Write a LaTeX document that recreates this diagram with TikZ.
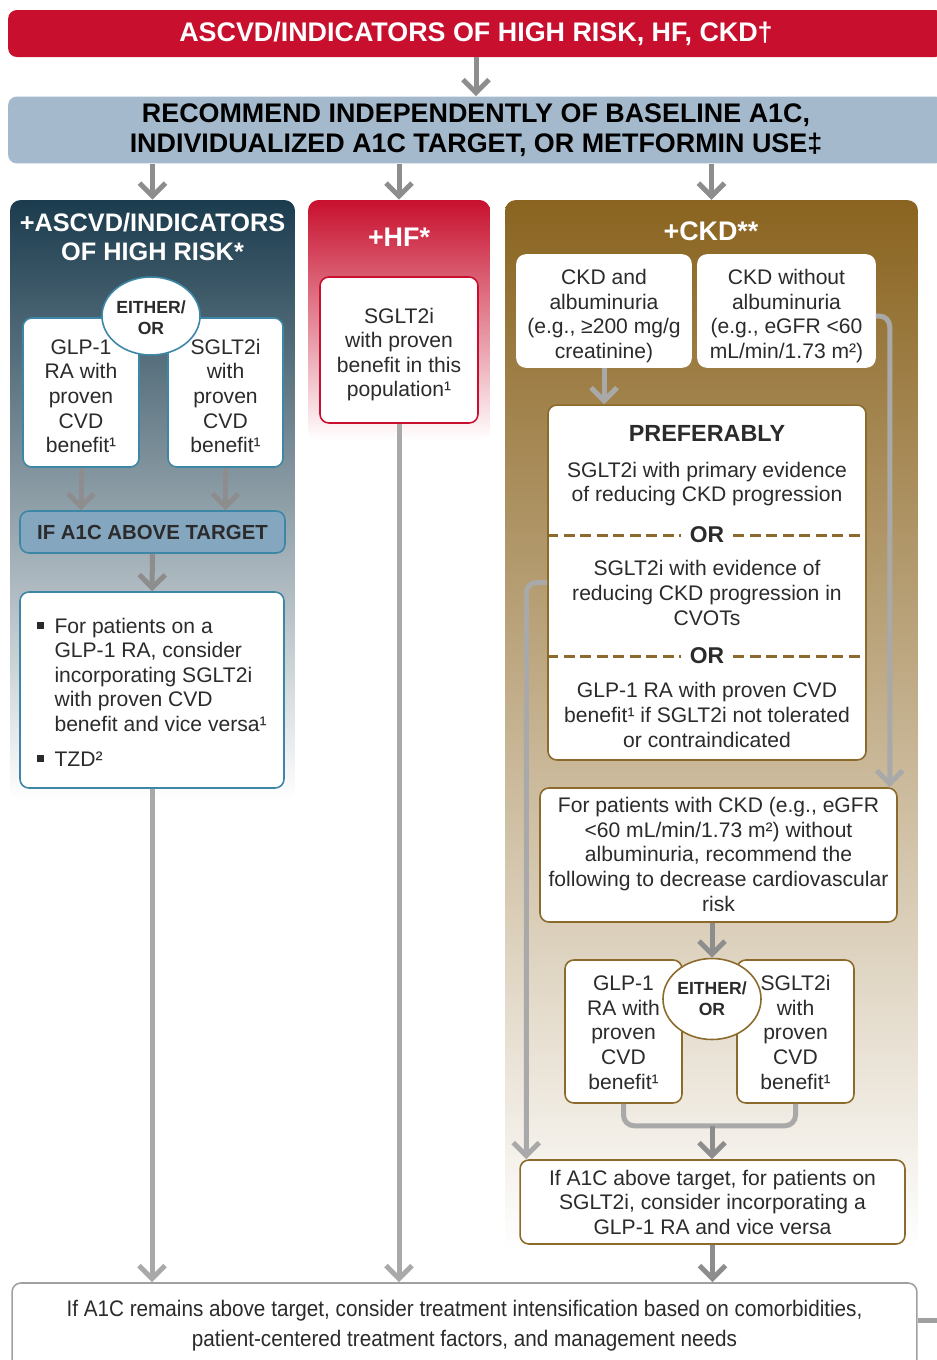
\documentclass[tikz,border=0pt]{standalone}
\usepackage{fontspec}
\setmainfont{Liberation Sans}
\newfontfamily\narrowfont[FakeStretch=0.92]{Liberation Sans}
\usepackage{tikz}
\usetikzlibrary{arrows.meta, positioning, shapes.geometric}
\usepackage{xcolor}
\definecolor{BannerRed}{HTML}{C8102E}
\definecolor{RecBlue}{HTML}{A4B9CC}
\definecolor{AscvdTop}{HTML}{1B3C4E}
\definecolor{AscvdLine}{HTML}{3C86A6}
\definecolor{IfBlue}{HTML}{84A6BF}
\definecolor{CkdBrown}{HTML}{8A6420}
\definecolor{CkdLine}{HTML}{8C6A2C}
\definecolor{ArrowGray}{HTML}{8D8D8D}
\definecolor{LineGray}{HTML}{A9A9A9}
\definecolor{BoxGray}{HTML}{A0A0A0}
\definecolor{TextGray}{HTML}{2B2B2B}
\newcommand{\lowered}[2]{\raisebox{-#1}[\height][\depth]{\begin{tabular}{@{}c@{}}#2\end{tabular}}}

\begin{document}
\begin{tikzpicture}[x=0.02cm, y=-0.02cm,
  every node/.style={font=\fontsize{12}{14}\selectfont, text=TextGray},
  hdr/.style={font=\bfseries\fontsize{15.3}{17}\selectfont, align=center},
  panel/.style={rounded corners=6pt, draw=none},
  wbox/.style={draw, fill=white, rounded corners=5pt, line width=0.9pt, align=center, inner sep=0pt},
  either/.style={ellipse, draw, fill=white, line width=0.9pt, align=center, inner sep=0pt,
                 minimum width=1.8cm, minimum height=1.62cm, font=\bfseries\fontsize{10}{12}\selectfont},
  orlbl/.style={font=\bfseries\fontsize{13}{15}\selectfont, inner xsep=5pt},
  dashline/.style={draw=CkdLine, line width=1.7pt, dash pattern=on 0.22cm off 0.11cm},
  arr/.style={draw=ArrowGray, line width=1mm,
              -{Straight Barb[length=2.6mm, width=5.2mm, line width=1mm]}},
  longarr/.style={arr, draw=LineGray},
  longline/.style={draw=LineGray, line width=1mm}
]
  \useasboundingbox (0,0) rectangle (937,1360);

  % top rows
  \node[fill=BannerRed, rounded corners=5pt, minimum width=18.72cm, minimum height=0.94cm, hdr, text=white]
    (banner) at (476,33.5) {ASCVD/INDICATORS OF HIGH RISK, HF, CKD†};
  \node[fill=RecBlue, rounded corners=5pt, minimum width=18.72cm, minimum height=1.34cm, hdr, text=black]
    (rec) at (476,130) {RECOMMEND INDEPENDENTLY OF BASELINE A1C,\\INDIVIDUALIZED A1C TARGET, OR METFORMIN USE‡};

  % column panels
  \node[panel, top color=AscvdTop, middle color=AscvdTop!55, bottom color=white,
        minimum width=5.7cm, minimum height=12cm] (ascvd) at (152.5,500) {};
  \node[panel, top color=BannerRed, bottom color=white,
        minimum width=3.64cm, minimum height=4.8cm] (hf) at (399,320) {};
  \node[panel, top color=CkdBrown, middle color=CkdBrown!58, bottom color=white,
        minimum width=8.26cm, minimum height=21cm] (ckd) at (711.5,725) {};

  \node[hdr, text=white, font=\bfseries\fontsize{14.4}{17}\selectfont] (ascvdT) at (152.5,237) {+ASCVD/INDICATORS\\OF HIGH RISK*};
  \node[hdr, text=white] (hfT) at (399,237) {+HF*};
  \node[hdr, text=white] (ckdT) at (711,231) {+CKD**};

  \draw[arr] (banner.south) -- (rec.north);
  \draw[arr] (rec.south -| ascvd.north) -- (ascvd.north);
  \draw[arr] (rec.south -| hf.north) -- (hf.north);
  \draw[arr] (rec.south -| ckd.north) -- (ckd.north);

  % ASCVD column
  \node[wbox, draw=AscvdLine, minimum width=2.32cm, minimum height=2.98cm] (glpA) at (81,392.5)
    {\lowered{0.12cm}{GLP-1\\RA with\\proven\\CVD\\benefit¹}};
  \node[wbox, draw=AscvdLine, minimum width=2.3cm, minimum height=2.98cm] (sgltA) at (225.5,392.5)
    {\lowered{0.12cm}{SGLT2i\\with\\proven\\CVD\\benefit¹}};
  \node[either, draw=AscvdLine, minimum height=1.56cm] (eitherA) at (151,316) {\lowered{0.08cm}{EITHER/\\OR}};
  \node[wbox, draw=AscvdLine, fill=IfBlue, minimum width=5.3cm, minimum height=0.84cm,
        font=\bfseries\fontsize{11.6}{14}\selectfont] (ifA) at (152.5,532) {IF A1C ABOVE TARGET};
  \node[wbox, draw=AscvdLine, minimum width=5.28cm, minimum height=3.92cm] (bulletsA) at (152,690)
    {\raisebox{-0.1cm}[\height][\depth]{\begin{tabular}{@{}l@{\hspace{6pt}}l@{}}
      \raisebox{2.6pt}{\rule{3.8pt}{3.8pt}} & For patients on a\\
       & GLP-1 RA, consider\\
       & incorporating SGLT2i\\
       & with proven CVD\\
       & benefit and vice versa¹\\[6pt]
      \raisebox{2.6pt}{\rule{3.8pt}{3.8pt}} & TZD²
    \end{tabular}}};

  \draw[arr] (glpA.south) -- (glpA.south |- ifA.north);
  \draw[arr] (sgltA.south) -- (sgltA.south |- ifA.north);
  \draw[arr] (ifA.south) -- (bulletsA.north);

  % HF column
  \node[wbox, draw=BannerRed, minimum width=3.16cm, minimum height=2.92cm] (hfBox) at (399,350)
    {\lowered{0.1cm}{SGLT2i\\with proven\\benefit in this\\population¹}};

  % CKD column
  \node[wbox, draw=white, minimum width=3.48cm, minimum height=2.24cm] (ckdAlb) at (604,311)
    {\lowered{0.11cm}{CKD and\\albuminuria\\(e.g., ≥200 mg/g\\creatinine)}};
  \node[wbox, draw=white, minimum width=3.54cm, minimum height=2.24cm] (ckdNoAlb) at (786.5,311)
    {\lowered{0.11cm}{CKD without\\albuminuria\\(e.g., eGFR <60\\mL/min/1.73 m²)}};

  \node[wbox, draw=CkdLine, minimum width=6.36cm, minimum height=7.1cm] (pref) at (707,582.5) {};
  \node[font=\bfseries\fontsize{13.3}{16}\selectfont] (prefT) at (707,433) {PREFERABLY};
  \node[align=center] (opt1) at (707,484) {SGLT2i with primary evidence\\of reducing CKD progression};
  \node[orlbl] (or1) at (707,535) {OR};
  \node[align=center] (opt2) at (707,593) {SGLT2i with evidence of\\reducing CKD progression in\\CVOTs};
  \node[orlbl] (or2) at (707,656) {OR};
  \node[align=center] (opt3) at (707,715) {GLP-1 RA with proven CVD\\benefit¹ if SGLT2i not tolerated\\or contraindicated};
  \draw[dashline] (pref.west |- or1) -- (or1.west);
  \draw[dashline] (or1.east) -- (pref.east |- or1);
  \draw[dashline] (pref.west |- or2) -- (or2.west);
  \draw[dashline] (or2.east) -- (pref.east |- or2);

  \node[wbox, draw=CkdLine, minimum width=7.14cm, minimum height=2.68cm] (cvBox) at (718.5,855)
    {\lowered{0.04cm}{For patients with CKD (e.g., eGFR\\<60 mL/min/1.73 m²) without\\albuminuria, recommend the\\following to decrease cardiovascular\\risk}};

  \node[wbox, draw=CkdLine, minimum width=2.34cm, minimum height=2.86cm] (glpB) at (623.5,1031.5)
    {\lowered{0.07cm}{GLP-1\\RA with\\proven\\CVD\\benefit¹}};
  \node[wbox, draw=CkdLine, minimum width=2.34cm, minimum height=2.86cm] (sgltB) at (795.5,1031.5)
    {\lowered{0.07cm}{SGLT2i\\with\\proven\\CVD\\benefit¹}};
  \node[either, draw=CkdLine] (eitherB) at (712,999) {EITHER/\\OR};

  \node[wbox, draw=CkdLine, minimum width=7.7cm, minimum height=1.68cm] (a1cCkd) at (712.5,1202)
    {\lowered{0.06cm}{If A1C above target, for patients on\\SGLT2i, consider incorporating a\\GLP-1 RA and vice versa}};

  \draw[longarr] (ckdAlb.south) -- (pref.north -| ckdAlb.south);
  \draw[longarr, rounded corners=6pt] ([yshift=-0.1cm]ckdNoAlb.east) -| ([xshift=-0.16cm]cvBox.north east);
  \draw[longarr, rounded corners=6pt] (pref.west) -| ([xshift=0.14cm]a1cCkd.north west);
  \draw[arr] (cvBox.south -| eitherB) -- (eitherB.north);
  \draw[longline, rounded corners=6pt] (glpB.south) -- ++(0,22) coordinate (brk) -| (sgltB.south);
  \draw[arr] (brk -| eitherB) -- (a1cCkd.north -| eitherB);

  % bottom row
  \node[draw=BoxGray, fill=white, rounded corners=5pt, line width=0.9pt,
        minimum width=18.1cm, minimum height=1.72cm] (final) at (464.5,1326) {};
  \node[font=\narrowfont\fontsize{12.8}{17}\selectfont, align=center] (finalT) at (final.center)
    {If A1C remains above target, consider treatment intensification based on comorbidities,\\patient-centered treatment factors, and management needs};
  \coordinate (exitR) at (950,1320);
  \draw[longline, draw=BoxGray] (final.east |- exitR) -- (exitR);

  \draw[longarr] (bulletsA.south) -- (final.north -| bulletsA.south);
  \draw[longarr] (hfBox.south) -- (final.north -| hfBox.south);
  \draw[arr] (a1cCkd.south) -- (final.north -| a1cCkd.south);
\end{tikzpicture}
\end{document}
